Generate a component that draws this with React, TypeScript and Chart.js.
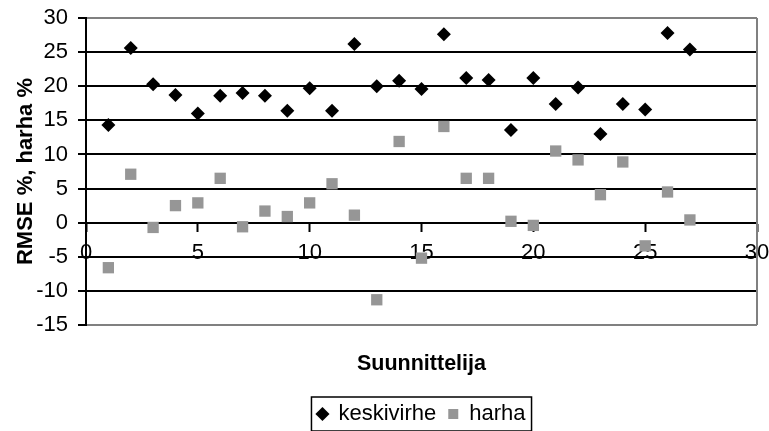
import React, { useEffect, useRef } from "react";
import { Chart, registerables } from "chart.js";

Chart.register(...registerables);

const suunnittelija = [1, 2, 3, 4, 5, 6, 7, 8, 9, 10, 11, 12, 13, 14, 15, 16, 17, 18, 19, 20, 21, 22, 23, 24, 25, 26, 27];
const keskivirhe = [14.3, 25.6, 20.3, 18.7, 16.0, 18.6, 19.0, 18.6, 16.4, 19.7, 16.4, 26.2, 20.0, 20.8, 19.6, 27.6, 21.2, 20.9, 13.6, 21.2, 17.4, 19.8, 13.0, 17.4, 16.6, 27.8, 25.4];
const harha = [-6.6, 7.1, -0.7, 2.5, 2.9, 6.5, -0.6, 1.7, 0.9, 2.9, 5.7, 1.1, -11.3, 11.9, -5.2, 14.1, 6.5, 6.5, 0.2, -0.4, 10.5, 9.2, 4.1, 8.9, -3.4, 4.5, 0.4];
const xTicks = [0, 5, 10, 15, 20, 25, 30];
const yTicks = [-15, -10, -5, 0, 5, 10, 15, 20, 25, 30];
const seriesNames = ["keskivirhe", "harha"];
const xTitle = "Suunnittelija";
const yTitle = "RMSE %, harha %";

const FONT = "'Liberation Sans', Arial, sans-serif";

const framePlugin = {
  id: "frame",
  beforeDatasetsDraw(chart: any) {
    const { ctx, chartArea: a } = chart;
    ctx.save();
    ctx.strokeStyle = "#808080";
    ctx.lineWidth = 2;
    ctx.beginPath();
    ctx.moveTo(a.right, a.top);
    ctx.lineTo(a.right, a.bottom);
    ctx.stroke();
    ctx.restore();
  },
  afterDraw(chart: any) {
    const lg = chart.legend;
    if (!lg || !lg.legendHitBoxes || !lg.legendHitBoxes.length) return;
    const hbs = lg.legendHitBoxes;
    let l = Infinity, r = -Infinity, c = 0;
    hbs.forEach((hb: any) => {
      l = Math.min(l, hb.left);
      r = Math.max(r, hb.left + hb.width);
      c = hb.top + hb.height / 2;
    });
    const { ctx } = chart;
    ctx.save();
    ctx.strokeStyle = "#000";
    ctx.lineWidth = 1.5;
    ctx.strokeRect(l - 6, c - 17, r - l + 12, 34);
    ctx.restore();
  },
};

export default function App() {
  const ref = useRef<HTMLCanvasElement | null>(null);
  useEffect(() => {
    if (!ref.current) return;
    const chart = new Chart(ref.current, {
      type: "scatter",
      data: {
        datasets: [
          {
            label: seriesNames[0],
            data: suunnittelija.map((x, i) => ({ x, y: keskivirhe[i] })),
            pointStyle: "rectRot",
            pointRadius: 7,
            backgroundColor: "#000",
            borderColor: "#000",
            borderWidth: 0,
          },
          {
            label: seriesNames[1],
            data: suunnittelija.map((x, i) => ({ x, y: harha[i] })),
            pointStyle: "rect",
            pointRadius: 8,
            backgroundColor: "#969696",
            borderColor: "#969696",
            borderWidth: 0,
          },
        ],
      },
      options: {
        animation: false,
        responsive: false,
        maintainAspectRatio: false,
        layout: { padding: { left: 0, right: 12, top: 18, bottom: 10 } },
        scales: {
          x: {
            type: "linear",
            axis: "x",
            position: { y: 0 } as any,
            min: xTicks[0],
            max: xTicks[xTicks.length - 1],
            afterBuildTicks: (s: any) => {
              s.ticks = xTicks.map((v) => ({ value: v }));
            },
            afterFit: (s: any) => {
              s.paddingLeft = 0;
              s.paddingRight = 0;
            },
            grid: {
              drawOnChartArea: false,
              drawTicks: true,
              tickLength: 8,
              tickColor: "#000",
              tickWidth: 2,
            },
            border: { display: true, color: "#000", width: 2 },
            ticks: {
              color: "#000",
              padding: 9,
              maxRotation: 0,
              font: { family: FONT, size: 22 },
            },
          },
          y: {
            type: "linear",
            position: "left",
            min: yTicks[0],
            max: yTicks[yTicks.length - 1],
            afterBuildTicks: (s: any) => {
              s.ticks = yTicks.map((v) => ({ value: v }));
            },
            afterFit: (s: any) => {
              s.width = 86;
              s.paddingTop = 0;
              s.paddingBottom = 0;
            },
            grid: {
              color: (c: any) =>
                c.tick && (c.tick.value === yTicks[0] || c.tick.value === yTicks[yTicks.length - 1]) ? "#808080" : "#000",
              lineWidth: 2,
              drawTicks: true,
              tickLength: 8,
              tickColor: "#000",
            },
            border: { display: true, color: "#000", width: 2 },
            ticks: {
              color: "#000",
              padding: 10,
              font: { family: FONT, size: 22 },
            },
            title: {
              display: true,
              text: yTitle,
              color: "#000",
              padding: { top: 13, bottom: 0 },
              font: { family: FONT, size: 22, weight: "bold" },
            },
          },
        },
        plugins: {
          tooltip: { enabled: false },
          title: {
            display: true,
            text: xTitle,
            position: "bottom",
            fullSize: false,
            weight: 500,
            color: "#000",
            padding: { top: 26, bottom: 14.2 },
            font: { family: FONT, size: 21.5, weight: "bold" },
          } as any,
          legend: {
            position: "bottom",
            fullSize: false,
            labels: {
              usePointStyle: true,
              boxWidth: 10,
              boxHeight: 10,
              padding: 12,
              color: "#000",
              font: { family: FONT, size: 22 },
            },
          },
        },
      },
      plugins: [framePlugin],
    } as any);
    return () => chart.destroy();
  }, []);
  return (
    <div style={{ position: "fixed", left: 0, top: 0, width: 769, height: 445, background: "#fff" }}>
      <canvas ref={ref} width={769} height={445} style={{ display: "block" }} />
    </div>
  );
}
